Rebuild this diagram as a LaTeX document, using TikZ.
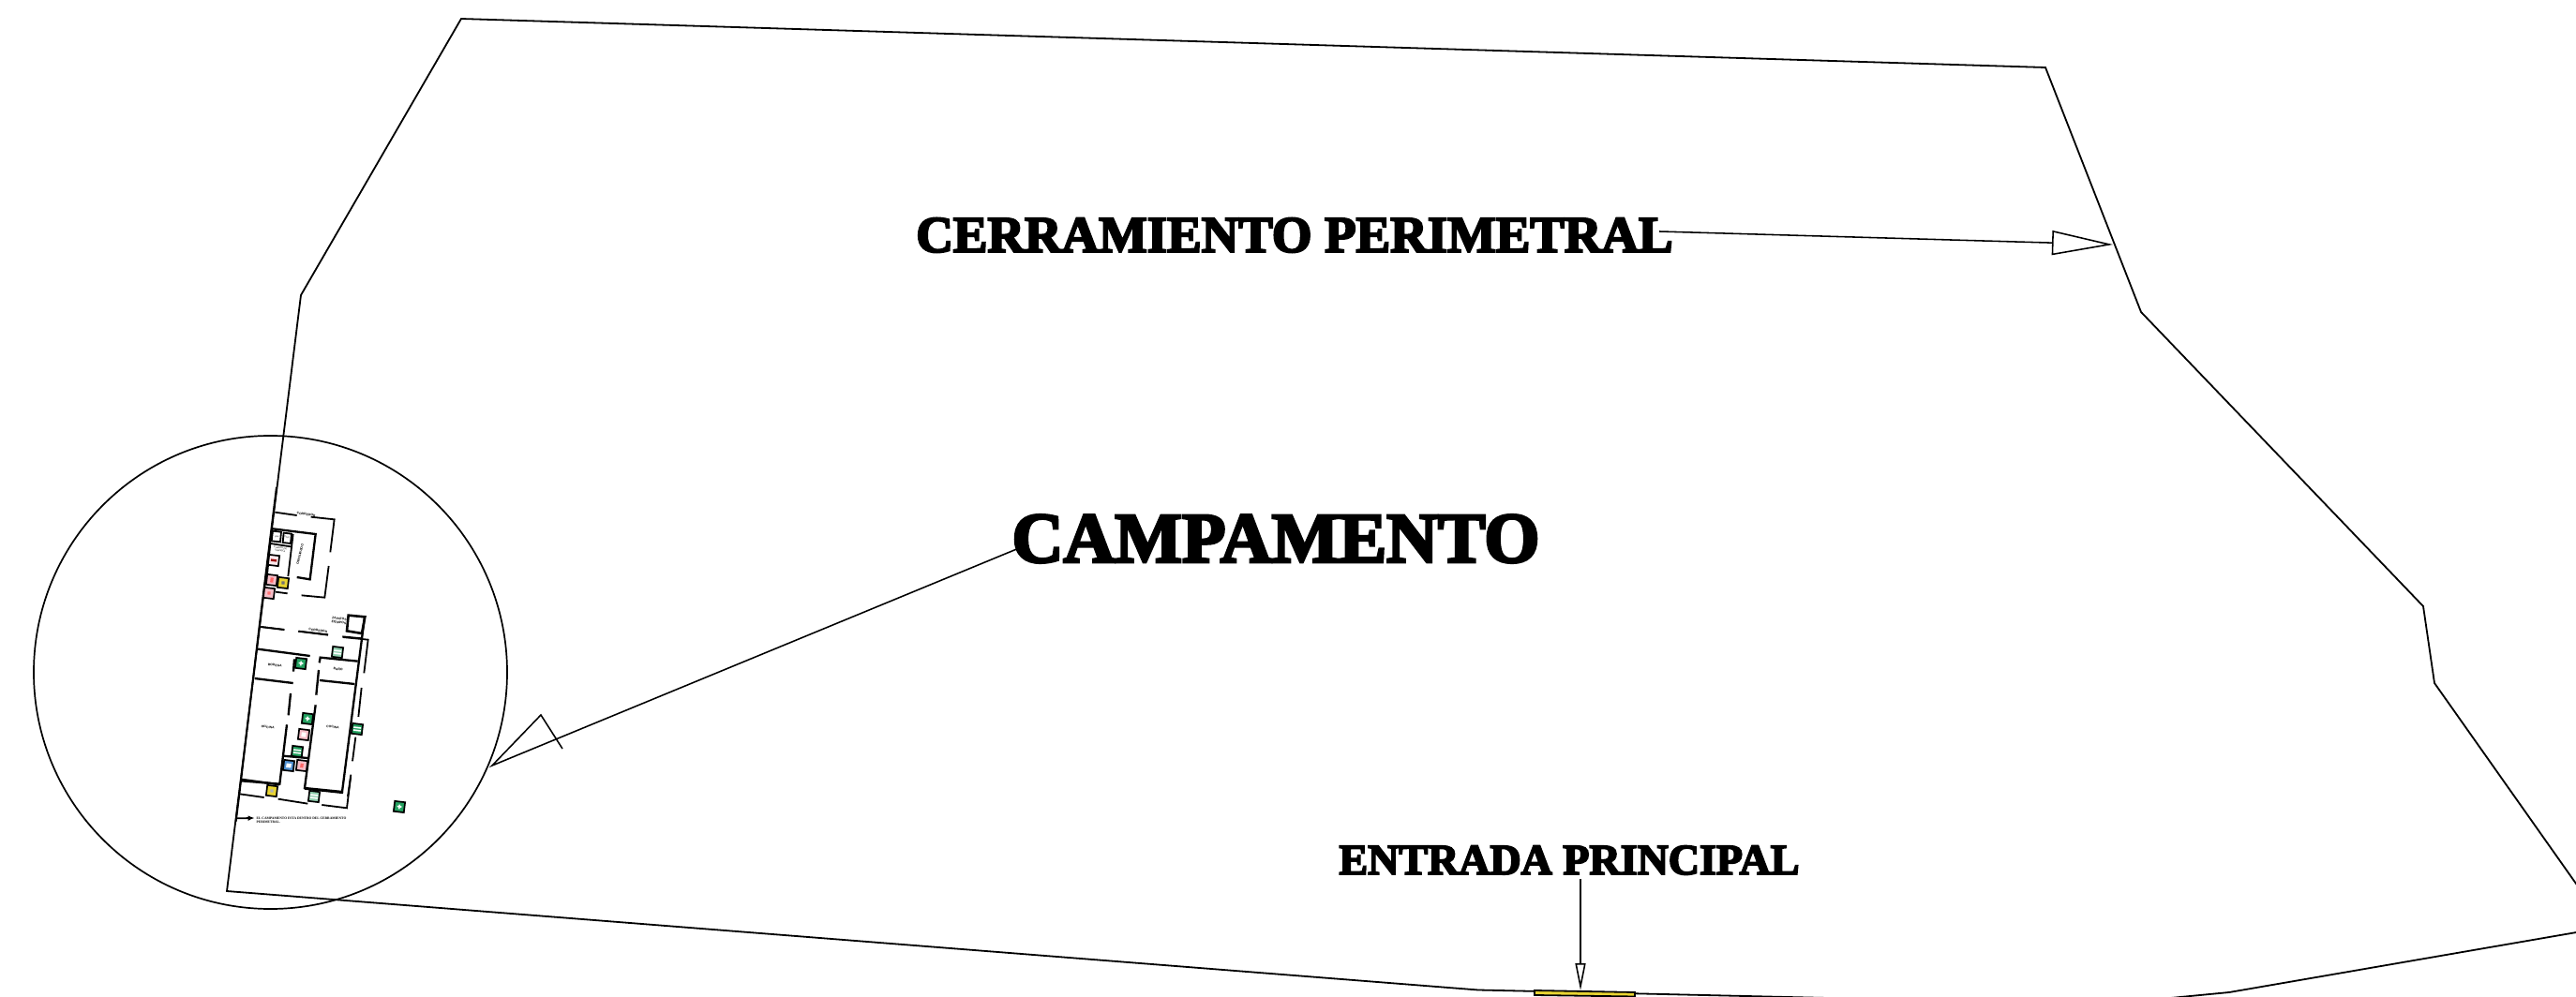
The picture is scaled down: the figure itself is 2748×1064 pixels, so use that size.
\documentclass[tikz,border=0pt]{standalone}
\usepackage{fontspec}
\setmainfont{Liberation Serif}
\newfontfamily\lblfont[FakeBold=4]{Liberation Serif Bold}
\newfontfamily\roomfont{Liberation Sans}
\usetikzlibrary{arrows.meta}
\definecolor{sgreen}{RGB}{35,160,95}
\definecolor{spink}{RGB}{245,190,200}
\definecolor{syellow}{RGB}{232,212,50}
\definecolor{sblue}{RGB}{80,145,210}
\tikzset{
 perim/.style={line width=0.9pt,line join=miter},
 wall/.style={line width=0.9pt},
 thickwall/.style={line width=1.15pt},
 leader/.style={line width=0.78pt},
 title/.style={inner sep=0pt,font=\lblfont},
 room/.style={inner sep=0pt,font=\roomfont\bfseries\fontsize{1.7}{2}\selectfont,rotate=-7,align=center},
 signn/.style={draw=black,line width=0.85pt,minimum size=5.5pt,inner sep=0pt,rotate=-7,font=\fontsize{3}{3}\selectfont},
}
\newcommand{\bars}{{\color{white}\rule[1pt]{4pt}{0.8pt}\llap{\rule[-0.5pt]{4pt}{0.8pt}}}}
\newcommand{\crossmark}{{\color{white}\rule[0.9pt]{2.4pt}{0.8pt}\llap{\rule[0pt]{0.8pt}{2.4pt}\kern0.8pt}}}
\newcommand{\sgn}[5]{\node[signn,fill=#4] (#1) at (#2,#3) {#5};}
\begin{document}
\begin{tikzpicture}[x=0.5pt,y=-0.5pt]
\useasboundingbox (0,0) rectangle (2748,1064);
\clip (0,0) rectangle (2748,1064);
% perimeter
\coordinate (pa) at (492,20);
\coordinate (pb) at (2182,72);
\coordinate (pc) at (2284,333);
\coordinate (pd) at (2585,647);
\coordinate (pe) at (2597,729);
\coordinate (pf) at (2760,960);
\coordinate (pg) at (2760,993);
\coordinate (ph) at (2378,1059);
\coordinate (pi) at (2300,1066.5);
\coordinate (pj) at (1950,1065);
\coordinate (pk) at (1577,1056.5);
\coordinate (pl) at (242,951);
\coordinate (pm) at (321,315);
\draw[perim] (pf) -- (pe) -- (pd) -- (pc) -- (pb) -- (pa) -- (pm) -- (pl) -- (pk) -- (pj);
\draw[perim] (pi) -- (ph) -- (pg);
% gate
\draw[line width=0.9pt,fill=syellow] (1637,1057) -- (1744,1059) -- (1744,1063.5) -- (1637,1062) -- cycle;
% circle
\node[draw,circle,line width=0.85pt,minimum size=252.5pt,inner sep=0pt] (zoomc) at (288.5,717.5) {};
% labels
\node[title,font=\lblfont\fontsize{27.4}{30}\selectfont] (cerr) at (1381,251) {CERRAMIENTO PERIMETRAL};
\node[title,font=\lblfont\fontsize{38}{44}\selectfont] (camp) at (1361,575) {CAMPAMENTO};
\node[title,font=\lblfont\fontsize{23}{25}\selectfont] (entr) at (1674,918) {ENTRADA PRINCIPAL};
% leaders
\coordinate (cerrS) at (1770,247);
\coordinate (cerrT) at (2254,261);
\coordinate (campS) at (1087,585);
\coordinate (campT) at (525,817);
\coordinate (campA) at (577,763);
\coordinate (campB) at (600,799);
\coordinate (entrS) at (1686,938);
\coordinate (entrT) at (1686,1057);
\draw[leader,-{Triangle[open,length=32.5pt,width=13pt,line width=0.78pt]}] (cerrS) -- (cerrT);
\draw[leader,-{Triangle[open,length=14.5pt,width=5.5pt,line width=0.78pt]}] (entrS) -- (entrT);
\draw[leader] (campS) -- (campT) -- (campA) -- (campB);
% plan: upper part
\begin{scope}[shift={(220,520)},scale=1/3]
\draw[wall] (220,80) -- (290,90) (335,95) -- (410,103) -- (397,208) (392,252) -- (379,353) -- (305,346);
\draw[thickwall] (290,288) -- (332,295) -- (350,150) -- (213,133);
\draw[wall] (278,150) -- (262,285) (205,180) -- (270,190) (205,180) -- (195,280);
\draw[wall] (213,140) -- (240,143) -- (237,175) -- (209,172) -- cycle;
\draw[wall] (248,146) -- (273,149) -- (270,180) -- (245,177) -- cycle;
\draw[wall] (222,335) -- (260,340);
\draw[wall] (175,447) -- (250,456) (295,461) -- (390,472) (436,478) -- (500,484);
\draw[line width=1.3pt] (455,410) -- (508,415) -- (498,468) -- (450,460) -- cycle;
\node[room] (t1) at (320,87) {CORREDOR};
\node[room,font=\roomfont\fontsize{1.2}{1.4}\selectfont] (t2) at (237,199) {CUARTO DE\\ LIMPIEZA};
\node[room,rotate=-97] (t3) at (300,215) {DORMITORIO};
\node[room,rotate=0] (t4) at (425,428) {ZAPATOS\\ EQUIPOS};
\node[room,font=\roomfont\fontsize{1.2}{1.4}\selectfont] (t5) at (226,158) {LAV.};
\node[room,font=\roomfont\fontsize{1.2}{1.4}\selectfont] (t6) at (260,160) {DUC.};
\node[room] (t7) at (358,459) {CORREDOR};
\end{scope}
% plan: middle part
\begin{scope}[shift={(240,660)},scale=1/3]
\draw[line width=1pt] (165,-420) -- (113,0) -- (45,570) -- (35,650);
\draw[wall] (115,27) -- (190,36) (235,41) -- (330,53) (377,60) -- (458,68) -- (445,175);
\draw[wall] (437,222) -- (427,315) (418,380) -- (408,457) (403,500) -- (393,570);
\draw[thickwall] (447,-5) -- (375,555) -- (255,543) -- (290,277);
\draw[thickwall] (300,165) -- (292,245);
\draw[thickwall] (302,142) -- (305,125) -- (425,137);
\draw[thickwall] (303,198) -- (415,210);
\draw[thickwall] (105,98) -- (272,120) (222,130) -- (219,170);
\draw[thickwall] (95,192) -- (218,207);
\draw[thickwall] (210,240) -- (203,310) (198,340) -- (175,530) -- (52,520);
\draw[thickwall] (185,440) -- (265,447);
\node[room] (t8) at (160,150) {BODEGA};
\node[room] (t9) at (362,162) {BAÑO};
\node[room] (t10) at (137,348) {OFICINA};
\node[room] (t11) at (345,348) {COCINA};
\end{scope}
% plan: lower part
\begin{scope}[shift={(230,830)},scale=1/3]
\draw[wall] (77,52) -- (155,63) (200,68) -- (295,83) (340,87) -- (420,97) -- (432,0);
\draw[thickwall] (80,5) -- (205,22) (285,35) -- (408,48);
\coordinate (noteS) at (65,130);
\node[inner sep=0pt,anchor=west,align=left,font=\bfseries\fontsize{1.8}{2.2}\selectfont] (note) at (130,136) {EL CAMPAMENTO ESTA DENTRO DEL CERRAMIENTO\\PERIMETRAL.};
\coordinate (noteT) at (125,129);
\draw[wall,-{Latex[length=3.5pt,width=2.8pt]}] (noteS) -- (noteT);
\end{scope}
% signs
\sgn{s1}{292}{598}{spink!35}{\color{red!60!black}\rule{3pt}{1.2pt}}
\sgn{s2}{290}{619}{spink}{\color{red!60}\rule{1.6pt}{2.6pt}}
\sgn{s3}{302}{622}{syellow}{\color{black!55}\rule{1.6pt}{1.6pt}}
\sgn{s4}{287}{633}{spink}{\color{red!55}\rule{1.6pt}{1.6pt}}
\sgn{s5}{321}{708}{sgreen}{\crossmark}
\sgn{s6}{360}{696}{sgreen!50}{\bars}
\sgn{s7}{328}{767}{sgreen}{\crossmark}
\sgn{s8}{324}{784}{spink}{\color{white}\rule{2.4pt}{2.4pt}}
\sgn{s9}{317}{802}{sgreen}{\bars}
\sgn{s10}{308}{817}{sblue}{\color{white}\rule{2.6pt}{2.2pt}}
\sgn{s11}{322}{817}{spink}{\color{red!60}\rule{1.6pt}{2.2pt}}
\sgn{s12}{290}{844}{syellow}{\color{black!30}\rule{1.6pt}{1.6pt}}
\sgn{s13}{381}{778}{sgreen}{\bars}
\sgn{s14}{335}{850}{sgreen!50}{\bars}
\sgn{s15}{426}{861}{sgreen}{\crossmark}
\end{tikzpicture}
\end{document}
